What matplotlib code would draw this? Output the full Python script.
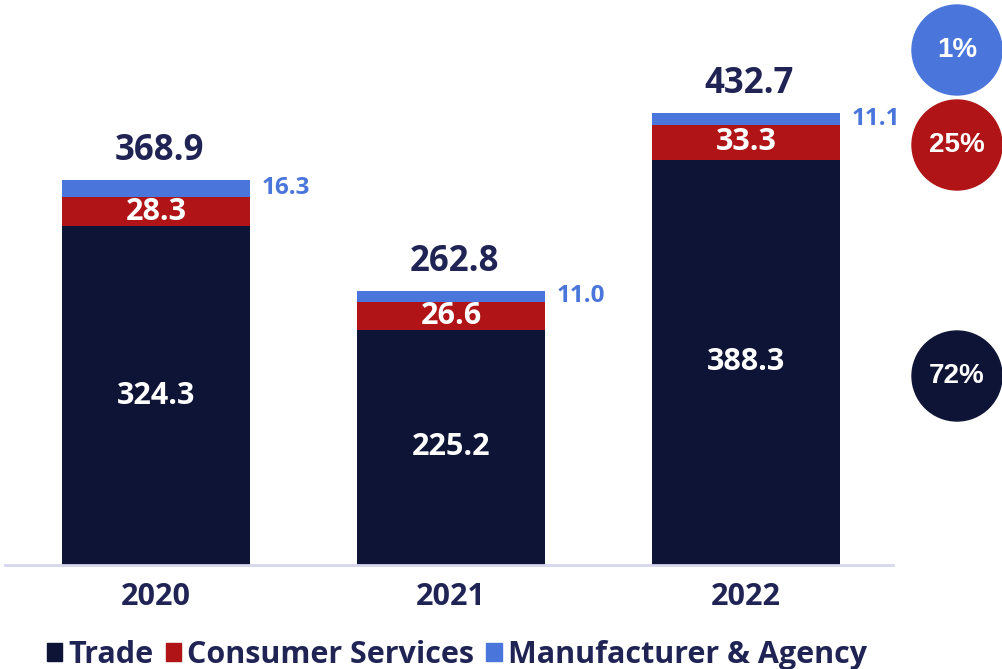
import numpy as np
import matplotlib.pyplot as plt
from matplotlib.patches import Circle, Patch

# datos
years = ["2020", "2021", "2022"]
trade = [324.3, 225.2, 388.3]
consumer = [28.3, 26.6, 33.3]
manufacturer = [16.3, 11.0, 11.1]
shares = ["1%", "25%", "72%"]

navy = "#0e1435"
red = "#b01416"
blue = "#4a76dc"
text_col = "#1f2455"

plt.rcParams['font.family'] = ['Open Sans', 'DejaVu Sans']

fig = plt.figure(figsize=(10.02, 6.69), dpi=100)
W, H = 1002, 669
base_px = 565
ax = fig.add_axes([5 / W, (H - base_px) / H, 888 / W, base_px / H])

x = np.arange(len(years))
width = 0.637
trade = np.array(trade)
consumer = np.array(consumer)
manufacturer = np.array(manufacturer)
totals = trade + consumer + manufacturer

ax.bar(x, trade, width, color=navy)
ax.bar(x, consumer, width, bottom=trade, color=red)
ax.bar(x, manufacturer, width, bottom=trade + consumer, color=blue)

for i in range(len(years)):
    ax.text(x[i], trade[i] / 2, f"{trade[i]:.1f}", ha='center', va='center',
            color='white', fontsize=22, fontweight='bold')
    ax.text(x[i], trade[i] + consumer[i] / 2, f"{consumer[i]:.1f}", ha='center',
            va='center', color='white', fontsize=22, fontweight='bold')
    ax.annotate(f"{manufacturer[i]:.1f}", (x[i] + width / 2, trade[i] + consumer[i] + manufacturer[i] / 2),
                xytext=(12, 0), textcoords='offset pixels', ha='left', va='center',
                color=blue, fontsize=17.5, fontweight='bold')
    ax.annotate(f"{totals[i]:.1f}", (x[i], totals[i]), xytext=(3, 29), textcoords='offset pixels',
                ha='center', va='center', color=text_col, fontsize=25, fontweight='bold')

ax.set_xlim(-0.512, 2.498)
ax.set_ylim(0, base_px / 1.044)
ax.set_xticks(x)
ax.set_xticklabels(years, fontsize=22, fontweight='bold', color=text_col)
ax.tick_params(axis='x', length=0, pad=12)
ax.set_yticks([])
for s in ['top', 'right', 'left']:
    ax.spines[s].set_visible(False)
ax.spines['bottom'].set_color('#d6d6ee')
ax.spines['bottom'].set_linewidth(2)

handles = [Patch(color=navy, label="Trade"), Patch(color=red, label="Consumer Services"),
           Patch(color=blue, label="Manufacturer & Agency")]
leg = fig.legend(handles=handles, loc='center', bbox_to_anchor=(457 / W, 1 - 655 / H), ncol=3,
                 frameon=False, handlelength=0.5, handleheight=0.5, handletextpad=0.2,
                 columnspacing=0.4, prop={'size': 22, 'weight': 'bold'})
for t in leg.get_texts():
    t.set_color(text_col)

# circulos a la derecha
ov = fig.add_axes([0, 0, 1, 1])
ov.set_xlim(0, W)
ov.set_ylim(H, 0)
ov.axis('off')
ov.patch.set_alpha(0)
circ_y = [50, 145, 376]
circ_c = [blue, red, navy]
for cy, cc, s in zip(circ_y, circ_c, shares):
    ov.add_patch(Circle((957, cy), 45, color=cc))
    ov.text(957, cy, s, ha='center', va='center', color='white', fontsize=20,
            fontweight='bold', family=['Liberation Sans', 'DejaVu Sans'])

fig.savefig("out.png", dpi=100)
